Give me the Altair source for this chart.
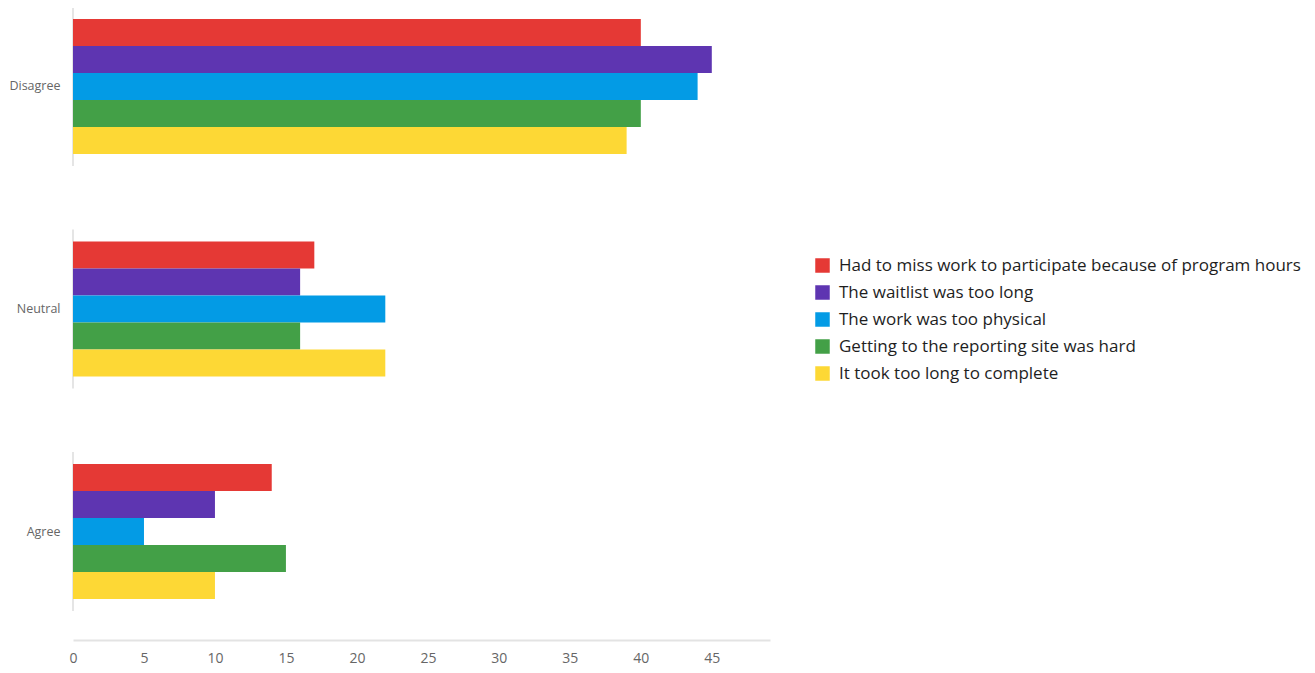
import altair as alt
import pandas as pd

categories = ["Disagree", "Neutral", "Agree"]
series = [
    "Had to miss work to participate because of program hours",
    "The waitlist was too long",
    "The work was too physical",
    "Getting to the reporting site was hard",
    "It took too long to complete",
]
colors = ["#E53935", "#5E35B1", "#039BE5", "#43A047", "#FDD835"]
values = {
    "Disagree": [40, 45, 44, 40, 39],
    "Neutral": [17, 16, 22, 16, 22],
    "Agree": [14, 10, 5, 15, 10],
}
x_ticks = [0, 5, 10, 15, 20, 25, 30, 35, 40, 45]

rows = []
for c in categories:
    for s, v in zip(series, values[c]):
        rows.append({"category": c, "series": s, "value": v})
df = pd.DataFrame(rows)
cat_df = pd.DataFrame({"category": categories, "zero": [0, 0, 0]})

W = 697
H = 580

y_scale = alt.Scale(domain=categories, paddingInner=0.3933, paddingOuter=0)
x_scale = alt.Scale(domain=[0, 49.1], nice=False, zero=True)

bars = alt.Chart(df).mark_bar(cornerRadius=0).encode(
    x=alt.X("value:Q", scale=x_scale,
            axis=alt.Axis(values=x_ticks, title=None, grid=False, ticks=False,
                          orient="bottom", labelFlush=False,
                          domainColor="#e3e3e3", domainWidth=2, offset=41,
                          labelColor="#666666", labelFontSize=14, labelPadding=11,
                          labelFont="Open Sans")),
    y=alt.Y("category:N", scale=y_scale, sort=categories,
            axis=alt.Axis(title=None, domain=False, ticks=False,
                          labelColor="#666666", labelFontSize=12.5, labelPadding=13,
                          labelFont="Open Sans")),
    yOffset=alt.YOffset("series:N", sort=series,
                        scale=alt.Scale(domain=series, paddingInner=0, paddingOuter=0)),
    color=alt.Color("series:N", sort=series,
                    scale=alt.Scale(domain=series, range=colors),
                    legend=alt.Legend(title=None, orient="none", legendX=741, legendY=238,
                                      symbolType="square", symbolSize=210,
                                      symbolStrokeWidth=0, labelFontSize=17,
                                      labelFont="Open Sans", labelColor="#1e1e1e",
                                      rowPadding=9, labelOffset=8, labelLimit=700)),
)

seps = alt.Chart(cat_df).mark_tick(orient="vertical", size=159, thickness=1.5,
                                  color="#cfcfcf").encode(
    x=alt.X("zero:Q", scale=x_scale),
    y=alt.Y("category:N", scale=y_scale, sort=categories),
)

chart = alt.layer(seps, bars).properties(
    width=W, height=H,
    background="white",
    autosize=alt.AutoSizeParams(type="none"),
    padding={"left": 65, "top": 11, "right": 535, "bottom": 74},
).configure_view(stroke=None)

chart.save("out.html", embed_options={"renderer": "svg", "actions": False})
